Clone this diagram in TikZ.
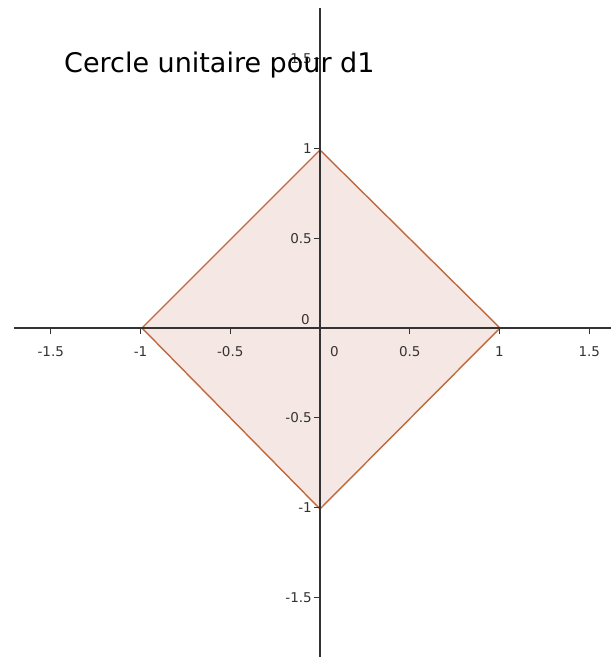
\documentclass[tikz,border=0pt]{standalone}
\usepackage{fontspec}
\setmainfont{DejaVu Sans}
\newfontfamily\tickfont{DejaVu Sans}
\definecolor{axiscol}{HTML}{333333}
\definecolor{edgecol}{HTML}{C0683E}
\definecolor{fillcol}{HTML}{F5E8E4}
\begin{document}
\begin{tikzpicture}[x=1pt,y=-1pt,
  axisline/.style={draw=axiscol,line width=1.3pt},
  tickmark/.style={draw=axiscol,line width=1pt},
  ticklabel/.style={font=\tickfont\fontsize{13.5}{14}\selectfont,text=axiscol,inner sep=0pt},
  edge/.style={draw=edgecol,line width=1.4pt,fill=fillcol,line join=miter}]
\useasboundingbox (0,0) rectangle (611,657);
\fill[white] (0,0) rectangle (611,657);
% unit scale
\def\ox{320}\def\oy{328}\def\s{179.5}
% diamond
\coordinate (R) at (500,328);
\coordinate (T) at (320,150);
\coordinate (L) at (142,328);
\coordinate (B) at (320,509);
\path[edge] (R) -- (T) -- (L) -- (B) -- cycle;
% axes
\coordinate (xa) at (14,328);
\coordinate (xb) at (611,328);
\coordinate (ya) at (320,8);
\coordinate (yb) at (320,657);
\draw[axisline] (xa) -- (xb);
\draw[axisline] (ya) -- (yb);
% x ticks
\foreach \v/\t in {-1.5/-1.5,-1/-1,-0.5/-0.5,0.5/0.5,1/1,1.5/1.5}{
  \draw[tickmark] ({\ox+\v*\s},328) -- ({\ox+\v*\s},334);
  \node[ticklabel,anchor=north] at ({\ox+\v*\s},346) {\t};
}
\node[ticklabel,anchor=north west] (x0) at (330,346) {0};
% y ticks
\foreach \v/\t in {1.5/1.5,1/1,0.5/0.5,-0.5/-0.5,-1/-1,-1.5/-1.5}{
  \draw[tickmark] (314,{\oy-\v*\s}) -- (320,{\oy-\v*\s});
  \node[ticklabel,anchor=east] at (312,{\oy-\v*\s}) {\t};
}
\node[ticklabel,anchor=south east] (y0) at (310,325) {0};
% title
\node[anchor=base west,inner sep=0pt,font=\fontsize{27}{30}\selectfont] (title) at (64,72) {Cercle unitaire pour d1};
\end{tikzpicture}
\end{document}
